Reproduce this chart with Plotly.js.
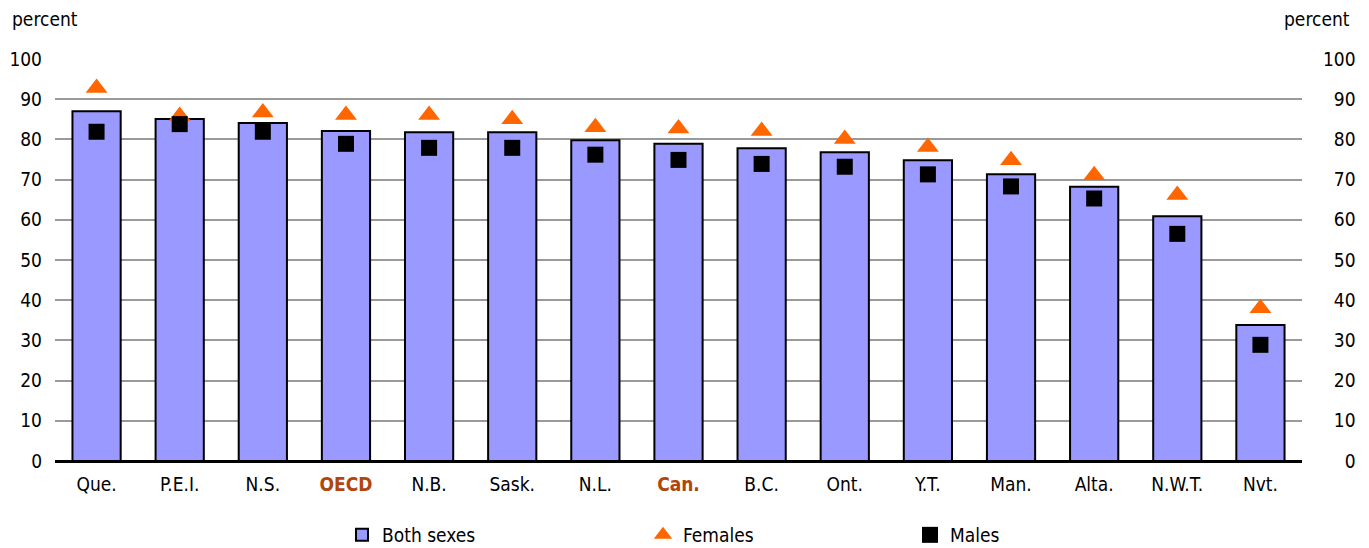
<!DOCTYPE html>
<html>
<head>
<meta charset="utf-8">
<script src="https://cdn.plot.ly/plotly-3.0.1.min.js"></script>
<style>
html,body{margin:0;padding:0;background:#fff;}
#chart{width:1369px;height:548px;}
#chart svg text{font-stretch:condensed !important;}
</style>
</head>
<body>
<div id="chart"></div>
<script>
const categories = ['Que.','P.E.I.','N.S.','OECD','N.B.','Sask.','N.L.','Can.','B.C.','Ont.','Y.T.','Man.','Alta.','N.W.T.','Nvt.'];
const highlighted = ['OECD','Can.'];
const bothSexes = [87.0, 85.1, 84.1, 82.1, 81.8, 81.8, 79.8, 78.9, 77.8, 76.8, 74.8, 71.3, 68.2, 60.9, 33.8];
const females   = [92.8, 85.8, 86.7, 86.1, 86.1, 85.0, 83.0, 82.7, 82.1, 80.1, 78.1, 74.8, 71.1, 66.2, 38.0];
const males     = [81.9, 83.8, 81.9, 78.9, 77.9, 77.9, 76.2, 74.9, 73.9, 73.2, 71.3, 68.3, 65.3, 56.5, 28.9];
const yTicks = [0,10,20,30,40,50,60,70,80,90,100];
const seriesNames = ['Both sexes','Females','Males'];
const unitLabel = 'percent';

const FONT = '"DejaVu Sans Condensed", "DejaVu Sans", sans-serif';
const tickText = categories.map(c => highlighted.includes(c) ? '<b><span style="color:#B0460C">' + c + '</span></b>' : c);
const rightTickText = yTicks.map(v => (v < 10 ? '\u2007\u2007' : v < 100 ? '\u2007' : '') + v);

const data = [
  {type:'bar', x:categories, y:bothSexes, name:seriesNames[0], legend:'legend',
   marker:{color:'#9999FF', line:{color:'#000000', width:2}}, width:0.58},
  {type:'scatter', mode:'markers', x:categories, y:females, name:seriesNames[1], legend:'legend2',
   marker:{symbol:'triangle-up', color:'#FF6600', size:19}},
  {type:'scatter', mode:'markers', x:categories, y:males, name:seriesNames[2], legend:'legend3',
   marker:{symbol:'square', color:'#000000', size:16}},
  {type:'scatter', mode:'markers', x:[], y:[], yaxis:'y2', showlegend:false, hoverinfo:'skip'}
];

function leg(xc){
  return {orientation:'h', xref:'container', yref:'container', x:xc, xanchor:'left',
          y:1 - 535/548, yanchor:'middle', bgcolor:'rgba(0,0,0,0)',
          font:{family:FONT, size:19, color:'#000'}};
}

const layout = {
  width:1369, height:548,
  margin:{l:55, r:67, t:59, b:87},
  paper_bgcolor:'#ffffff', plot_bgcolor:'#ffffff',
  font:{family:FONT, size:19, color:'#000000'},
  showlegend:true,
  legend:leg((362-20)/1369),
  legend2:leg((663-20)/1369),
  legend3:leg((930-20)/1369),
  xaxis:{type:'category', range:[-0.5,14.5], tickmode:'array', tickvals:categories, ticktext:tickText,
         showgrid:false, showline:false, ticks:'', ticklabelstandoff:10, fixedrange:true},
  yaxis:{range:[0,100], tickmode:'array', tickvals:yTicks, showgrid:true, gridcolor:'#9a9a9a', gridwidth:2,
         zeroline:true, zerolinecolor:'#000000', zerolinewidth:3, showline:false, ticks:'',
         ticklabelstandoff:12, fixedrange:true},
  yaxis2:{range:[0,100], overlaying:'y', side:'right', tickmode:'array', tickvals:yTicks, ticktext:rightTickText,
          showgrid:false, zeroline:false, showline:false, ticks:'', ticklabelstandoff:20, fixedrange:true},
  annotations:[
    {text:unitLabel, xref:'paper', yref:'paper', x:-0.036, y:1.1, xanchor:'left', yanchor:'middle', showarrow:false,
     font:{family:FONT, size:19}},
    {text:unitLabel, xref:'paper', yref:'paper', x:1.04, y:1.1, xanchor:'right', yanchor:'middle', showarrow:false,
     font:{family:FONT, size:19}}
  ],
  bargap:0.42
};

Plotly.newPlot('chart', data, layout, {displayModeBar:false, staticPlot:true});
</script>
</body>
</html>
